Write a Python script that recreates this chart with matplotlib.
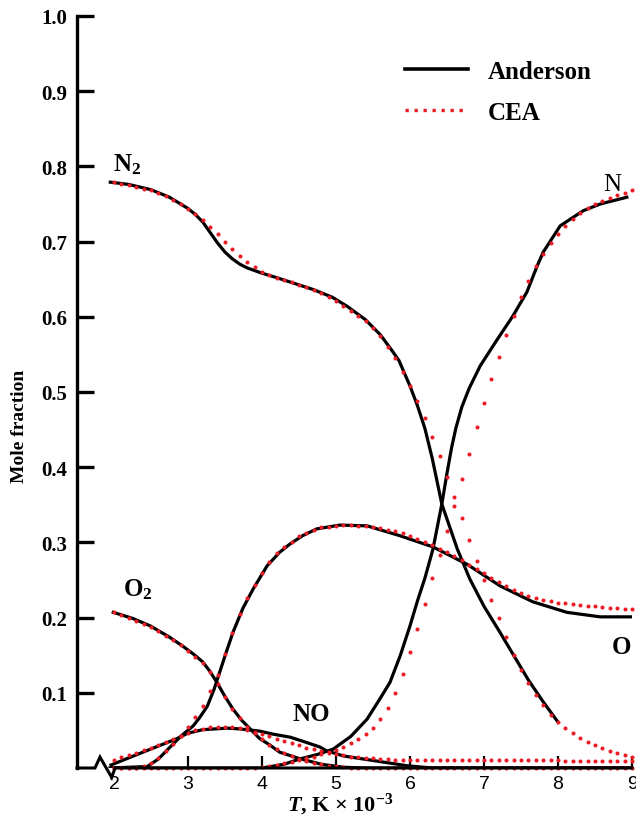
import matplotlib
matplotlib.use("Agg")
import matplotlib.pyplot as plt
import numpy as np
from matplotlib.lines import Line2D

plt.rcParams['font.family'] = ['Liberation Serif', 'DejaVu Serif']
plt.rcParams['mathtext.fontset'] = 'custom'
plt.rcParams['mathtext.rm'] = 'Liberation Serif:bold'
plt.rcParams['mathtext.it'] = 'Liberation Serif:italic:bold'
plt.rcParams['mathtext.bf'] = 'Liberation Serif:bold'

# Anderson curves (T in K x 10^-3, mole fraction)
t_n2_and = [1.95, 2.2, 2.5, 2.75, 2.9, 3.0, 3.1, 3.2, 3.3, 3.4, 3.5, 3.6, 3.7, 3.8, 4.0,
            4.2, 4.45, 4.7, 4.95, 5.15, 5.4, 5.6, 5.75, 5.85, 6.0, 6.1, 6.2, 6.3, 6.43,
            6.64, 6.81, 7.0, 7.2, 7.4, 7.6, 7.8, 8.0]
n2_and = [0.779, 0.776, 0.769, 0.759, 0.750, 0.744, 0.736, 0.726, 0.712, 0.698, 0.686,
          0.677, 0.670, 0.665, 0.658, 0.652, 0.644, 0.636, 0.626, 0.614, 0.596, 0.576,
          0.556, 0.542, 0.508, 0.482, 0.452, 0.412, 0.351, 0.291, 0.251, 0.215, 0.183,
          0.150, 0.117, 0.088, 0.061]

t_o2_and = [1.99, 2.25, 2.49, 2.75, 2.93, 3.08, 3.2, 3.3, 3.39, 3.5, 3.61, 3.72, 3.84,
            3.97, 4.1, 4.24, 4.49, 4.8, 5.1, 5.4, 9.0]
o2_and = [0.207, 0.199, 0.189, 0.174, 0.162, 0.151, 0.141, 0.128, 0.114, 0.095, 0.078,
          0.064, 0.052, 0.039, 0.031, 0.021, 0.013, 0.005, 0.001, 0.0, 0.0]

t_o_and = [1.95, 2.45, 2.6, 2.76, 2.9, 3.07, 3.15, 3.26, 3.35, 3.43, 3.52, 3.61, 3.74,
           3.88, 4.07, 4.24, 4.38, 4.55, 4.74, 5.05, 5.42, 5.86, 6.31, 6.77, 7.22, 7.66,
           8.12, 8.57, 9.0]
o_and = [0.0, 0.002, 0.012, 0.028, 0.042, 0.056, 0.066, 0.082, 0.104, 0.128, 0.155,
         0.181, 0.212, 0.238, 0.269, 0.287, 0.298, 0.309, 0.318, 0.323, 0.322, 0.309,
         0.294, 0.271, 0.242, 0.221, 0.207, 0.201, 0.201]

t_n_and = [1.95, 4.0, 4.3, 4.51, 4.75, 4.96, 5.2, 5.42, 5.6, 5.73, 5.87, 6.0, 6.1, 6.2,
           6.31, 6.43, 6.5, 6.56, 6.62, 6.7, 6.8, 6.95, 7.18, 7.39, 7.58, 7.72, 7.8,
           8.03, 8.34, 8.57, 8.93]
n_and = [0.0, 0.0, 0.005, 0.012, 0.018, 0.025, 0.042, 0.065, 0.093, 0.114, 0.150, 0.189,
         0.222, 0.252, 0.291, 0.351, 0.392, 0.425, 0.452, 0.480, 0.505, 0.535, 0.570,
         0.601, 0.633, 0.668, 0.686, 0.721, 0.741, 0.750, 0.759]

t_no_and = [1.96, 2.39, 2.85, 2.99, 3.2, 3.53, 3.7, 3.97, 4.15, 4.38, 4.6, 4.78, 4.87,
            5.1, 5.5, 5.96, 6.3, 9.0]
no_and = [0.004, 0.021, 0.039, 0.046, 0.051, 0.053, 0.052, 0.049, 0.045, 0.041, 0.034,
          0.028, 0.023, 0.016, 0.010, 0.003, 0.0, 0.0]

# CEA results, every 100 K from 2000 K to 9000 K
t_cea = np.round(np.arange(2.0, 9.05, 0.1), 1)
n2_cea = [0.779, 0.777, 0.775, 0.773, 0.770, 0.768, 0.764, 0.760, 0.755, 0.750,
          0.744, 0.737, 0.729, 0.720, 0.710, 0.700, 0.690, 0.681, 0.673, 0.666,
          0.660, 0.656, 0.652, 0.649, 0.646, 0.642, 0.639, 0.635, 0.631, 0.626,
          0.621, 0.615, 0.608, 0.601, 0.594, 0.585, 0.574, 0.560, 0.545, 0.527,
          0.508, 0.488, 0.465, 0.440, 0.415, 0.387, 0.360, 0.332, 0.303, 0.275,
          0.250, 0.224, 0.199, 0.174, 0.150, 0.130, 0.113, 0.097, 0.084, 0.071,
          0.061, 0.053, 0.046, 0.040, 0.035, 0.031, 0.027, 0.023, 0.020, 0.017,
          0.015]
o2_cea = [0.207, 0.204, 0.200, 0.196, 0.192, 0.188, 0.182, 0.176, 0.170, 0.163,
          0.156, 0.148, 0.139, 0.127, 0.112, 0.095, 0.079, 0.066, 0.055, 0.046,
          0.038, 0.031, 0.025, 0.020, 0.016, 0.012, 0.009, 0.007, 0.005, 0.003,
          0.002, 0.001, 0.0, 0.0, 0.0, 0.0, 0.0, 0.0, 0.0, 0.0,
          0.0, 0.0, 0.0, 0.0, 0.0, 0.0, 0.0, 0.0, 0.0, 0.0,
          0.0, 0.0, 0.0, 0.0, 0.0, 0.0, 0.0, 0.0, 0.0, 0.0,
          0.0, 0.0, 0.0, 0.0, 0.0, 0.0, 0.0, 0.0, 0.0, 0.0,
          0.0]
o_cea = [0.0, 0.0, 0.0, 0.0, 0.002, 0.006, 0.013, 0.022, 0.032, 0.043,
         0.055, 0.068, 0.083, 0.102, 0.124, 0.152, 0.180, 0.205, 0.226, 0.243,
         0.259, 0.274, 0.286, 0.294, 0.301, 0.308, 0.313, 0.317, 0.320, 0.321,
         0.322, 0.323, 0.323, 0.322, 0.322, 0.321, 0.319, 0.317, 0.315, 0.312,
         0.309, 0.305, 0.301, 0.296, 0.291, 0.287, 0.282, 0.276, 0.270, 0.265,
         0.259, 0.253, 0.247, 0.242, 0.237, 0.233, 0.229, 0.226, 0.224, 0.222,
         0.220, 0.219, 0.218, 0.217, 0.216, 0.215, 0.214, 0.213, 0.213, 0.212,
         0.212]
n_cea = [0.0, 0.0, 0.0, 0.0, 0.0, 0.0, 0.0, 0.0, 0.0, 0.0,
         0.0, 0.0, 0.0, 0.0, 0.0, 0.0, 0.0, 0.0, 0.0, 0.0,
         0.001, 0.002, 0.004, 0.006, 0.008, 0.010, 0.013, 0.015, 0.018, 0.021,
         0.024, 0.028, 0.033, 0.038, 0.045, 0.053, 0.065, 0.080, 0.100, 0.125,
         0.154, 0.185, 0.218, 0.252, 0.283, 0.315, 0.349, 0.384, 0.418, 0.453,
         0.486, 0.517, 0.547, 0.576, 0.601, 0.626, 0.647, 0.667, 0.684, 0.698,
         0.710, 0.721, 0.730, 0.738, 0.745, 0.750, 0.754, 0.758, 0.762, 0.765,
         0.768]
no_cea = [0.011, 0.014, 0.017, 0.020, 0.024, 0.027, 0.031, 0.035, 0.039, 0.043,
          0.047, 0.050, 0.052, 0.054, 0.055, 0.055, 0.055, 0.053, 0.051, 0.048,
          0.045, 0.042, 0.039, 0.036, 0.033, 0.030, 0.027, 0.025, 0.022, 0.020,
          0.018, 0.017, 0.015, 0.014, 0.013, 0.013, 0.012, 0.012, 0.011, 0.011,
          0.011, 0.011, 0.011, 0.011, 0.011, 0.011, 0.011, 0.011, 0.011, 0.011,
          0.011, 0.010, 0.010, 0.010, 0.010, 0.010, 0.010, 0.010, 0.010, 0.010,
          0.010, 0.009, 0.009, 0.009, 0.009, 0.009, 0.009, 0.009, 0.009, 0.009,
          0.009]

y_ticks = [0.1, 0.2, 0.3, 0.4, 0.5, 0.6, 0.7, 0.8, 0.9, 1.0]
x_ticks = [2, 3, 4, 5, 6, 7, 8, 9]

RED = '#ec1c24'

fig = plt.figure(figsize=(6.36, 8.20), dpi=100)
ax = fig.add_axes([77 / 636, 51 / 820, 555 / 636, 752 / 820])

and_sets = [(t_n2_and, n2_and), (t_o2_and, o2_and), (t_o_and, o_and),
            (t_n_and, n_and), (t_no_and, no_and)]
for t, v in and_sets:
    ax.plot(t, v, color='black', lw=2.3, solid_joinstyle='round', zorder=2)

for v in [n2_cea, o2_cea, o_cea, n_cea, no_cea]:
    ax.plot(t_cea, v, ls='none', marker='o', ms=2.9, mfc=RED, mec='none',
            zorder=3, clip_on=False)

ax.set_xlim(1.5, 9.0)
ax.set_ylim(0, 1.0)

for side in ['top', 'right', 'bottom']:
    ax.spines[side].set_visible(False)
ax.spines['left'].set_linewidth(2.4)

# bottom axis with a break mark near the origin
ax.plot([0, 0.0324, 0.0414, 0.0625, 0.0685, 1.0], [0, 0, 0.0145, -0.0125, 0, 0],
        color='black', lw=2.2, transform=ax.transAxes, clip_on=False, zorder=4,
        solid_joinstyle='miter')

ax.set_yticks(y_ticks)
ax.set_yticklabels(['%.1f' % y for y in y_ticks], fontsize=15, fontweight='bold')
ax.tick_params(axis='y', direction='in', length=12, width=2.4, pad=7)

ax.set_xticks(x_ticks)
ax.set_xticklabels([str(x) for x in x_ticks], fontsize=14, family='Liberation Sans')
ax.tick_params(axis='x', direction='in', length=9, width=1.6, pad=5)
ax.xaxis.get_major_ticks()[0].tick1line.set_visible(False)

ax.set_ylabel('Mole fraction', fontsize=14, fontweight='bold')
ax.yaxis.set_label_coords(-0.088, 0.455)
ax.set_xlabel(r'$T$, K $\times$ 10$^{-3}$', fontsize=16, fontweight='bold')
ax.xaxis.set_label_coords(0.475, -0.031)

# species labels
lab = dict(fontsize=18, fontweight='bold', ha='center', va='center')
ax.text(2.18, 0.803, r'N$_2$', **lab)
ax.text(2.32, 0.238, r'O$_2$', **lab)
ax.text(4.66, 0.072, 'NO', **lab)
ax.text(8.73, 0.777, 'N', fontsize=18, ha='center', va='center')
ax.text(8.86, 0.161, 'O', **lab)

handles = [Line2D([], [], color='black', lw=2.6),
           Line2D([], [], color=RED, lw=2.4, ls=(0, (1, 1.7)))]
leg = ax.legend(handles, ['Anderson', 'CEA'], loc='upper left',
                bbox_to_anchor=(0.569, 0.958), frameon=False,
                prop={'family': 'Liberation Serif', 'weight': 'bold', 'size': 18},
                handlelength=2.5, handletextpad=0.8, labelspacing=0.72,
                borderpad=0.0)

fig.savefig('out.png', dpi=100, facecolor='white')
